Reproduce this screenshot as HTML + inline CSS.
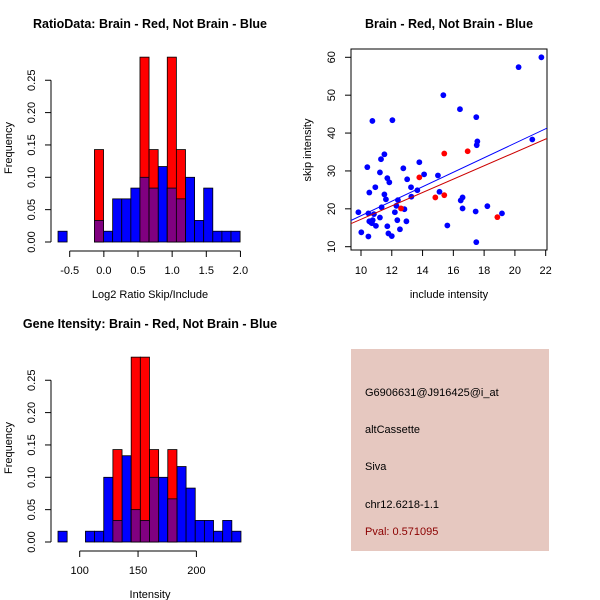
<!DOCTYPE html>
<html><head><meta charset="utf-8"><style>
html,body{margin:0;padding:0;background:#fff;}
svg{display:block;font-family:"Liberation Sans",sans-serif;}
</style></head><body>
<svg id="chart" width="600" height="600" viewBox="0 0 600 600" xmlns="http://www.w3.org/2000/svg">
<rect width="600" height="600" fill="#fff"/>
<g id="p1"></g>
<g id="p2"></g>
<g id="p3"></g>
<g id="p4">
<rect x="351" y="349" width="198" height="202" fill="#e6c8c0"/>
<text x="365" y="396" font-size="11">G6906631@J916425@i_at</text>
<text x="365" y="433" font-size="11">altCassette</text>
<text x="365" y="470" font-size="11">Siva</text>
<text x="365" y="508" font-size="11">chr12.6218-1.1</text>
<text x="365" y="535" font-size="11" fill="#8b0000">Pval: 0.571095</text>
</g>
</svg>
<script>
// Histogram 1 (ratio) data
const ratioBinStart = -0.671;
const ratioBinWidth = 0.1333;
const ratioBlue = [1,0,0,0,2,1,4,4,5,6,5,7,5,4,6,2,5,1,1,1].map(v=>v/60);
const ratioRed = [0,0,0,0,1,0,0,0,0,2,1,0,2,1,0,0,0,0,0,0].map(v=>v/7);
const ratioXTicks = [-0.5,0,0.5,1,1.5,2];
const ratioXLabels = ["-0.5","0.0","0.5","1.0","1.5","2.0"];
const freqTicks = [0,0.05,0.1,0.15,0.2,0.25];
const freqLabels = ["0.00","0.05","0.10","0.15","0.20","0.25"];
// Histogram 2 (intensity) data
const intBinStart = 81.4;
const intBinWidth = 7.84;
const intBlue = [1,0,0,1,1,6,2,8,3,2,6,6,4,7,5,2,2,1,2,1].map(v=>v/60);
const intRed = [0,0,0,0,0,0,1,0,2,2,1,0,1,0,0,0,0,0,0,0].map(v=>v/7);
const intXTicks = [100,150,200];
const intXLabels = ["100","150","200"];
// Scatter data
const blueX = [9.83,10.02,10.48,10.41,10.54,10.48,10.54,10.65,10.71,10.76,10.84,10.74,10.93,10.97,11.23,11.23,11.30,11.34,11.52,11.52,11.62,11.71,11.84,11.71,11.78,12.0,12.04,12.2,12.3,12.4,12.36,12.53,12.75,12.82,12.95,13.0,13.25,13.27,13.66,13.79,14.1,15.0,15.1,15.35,15.61,16.43,16.48,16.6,16.6,17.49,17.56,17.52,17.45,17.49,18.21,19.16,20.24,21.13,21.72];
const blueY = [19.1,13.8,12.7,31.0,24.3,18.8,16.7,16.4,16.2,17.0,18.6,43.2,25.7,15.5,29.6,17.7,33.1,20.4,34.4,23.8,22.5,28.1,27.0,15.4,13.5,12.8,43.4,19.1,20.8,22.3,17.0,14.6,30.7,19.9,16.7,27.8,25.7,23.2,24.9,32.3,29.1,28.8,24.5,50.0,15.6,46.3,22.2,23.0,20.1,44.2,37.8,36.8,19.3,11.2,20.7,18.8,57.4,38.3,60.0];
const redX = [12.6,13.79,14.83,15.41,15.41,16.93,18.86];
const redY = [20.1,28.3,23.0,34.6,23.6,35.2,17.8];
const fitBlue = [-0.97,1.914];
const fitRed = [-0.41,1.765];
const scXTicks = [10,12,14,16,18,20,22];
const scYTicks = [10,20,30,40,50,60];

const NS="http://www.w3.org/2000/svg";
function mk(parent,tag,attrs,txt){const e=document.createElementNS(NS,tag);for(const k in attrs)e.setAttribute(k,attrs[k]);if(txt!==undefined)e.textContent=txt;parent.appendChild(e);return e;}

function hist(g,oy,title,binStart,binW,blue,red,xTicks,xLabels,xlab){
  const X=v=>g.x0+(v-g.v0)*g.k;
  const Y=v=>oy+202-v*647;
  for(let i=0;i<blue.length;i++){
    const a=X(binStart+i*binW),b=X(binStart+(i+1)*binW);
    if(blue[i]>0){const r=mk(g.el,'rect',{x:a,y:Y(blue[i]),width:b-a,height:blue[i]*647,fill:'#0000ff',stroke:'#000','stroke-width':0.8});
      
      }
  }
  for(let i=0;i<red.length;i++){
    const a=X(binStart+i*binW),b=X(binStart+(i+1)*binW);
    if(red[i]>0){const r=mk(g.el,'rect',{x:a,y:Y(red[i]),width:b-a,height:red[i]*647,fill:'#ff0000',stroke:'#000','stroke-width':0.8});
      
      
      const m=Math.min(red[i],blue[i]);
      if(m>0){const p=mk(g.el,'rect',{x:a,y:Y(m),width:b-a,height:m*647,fill:'#800080',stroke:'#000','stroke-width':0.8});
        
        }
    }
  }
  const ya=mk(g.el,'line',{x1:51,x2:51,y1:Y(0),y2:Y(0.25),stroke:'#000'});
  
  
  freqTicks.forEach((t,i)=>{mk(g.el,'line',{x1:45,x2:51,y1:Y(t),y2:Y(t),stroke:'#000'});
    const tx=mk(g.el,'text',{x:0,y:0,'font-size':11,'text-anchor':'middle',transform:`translate(35,${Y(t)}) rotate(-90)`},freqLabels[i]);
    
    });
  const xa=mk(g.el,'line',{x1:X(xTicks[0]),x2:X(xTicks[xTicks.length-1]),y1:oy+211,y2:oy+211,stroke:'#000'});
  
  
  xTicks.forEach((t,i)=>{mk(g.el,'line',{x1:X(t),x2:X(t),y1:oy+211,y2:oy+217,stroke:'#000'});
    const tx=mk(g.el,'text',{x:X(t),y:oy+234,'font-size':11,'text-anchor':'middle'},xLabels[i]);
    
    });
  const yl=mk(g.el,'text',{x:0,y:0,'font-size':11,'text-anchor':'middle',transform:`translate(12,${oy+108}) rotate(-90)`},'Frequency');
  
  
  const xl=mk(g.el,'text',{x:150,y:oy+258,'font-size':11,'text-anchor':'middle'},xlab);
  
  
  const tt=mk(g.el,'text',{x:150,y:oy-12,'font-size':12.5,'font-weight':'bold','text-anchor':'middle'},title);
  
  
}
hist({el:document.getElementById('p1'),x0:69.7,v0:-0.5,k:68.3},40,'RatioData: Brain - Red, Not Brain - Blue',ratioBinStart,ratioBinWidth,ratioBlue,ratioRed,ratioXTicks,ratioXLabels,'Log2 Ratio Skip/Include');
hist({el:document.getElementById('p3'),x0:79.7,v0:100,k:1.167},340,'Gene Itensity: Brain - Red, Not Brain - Blue',intBinStart,intBinWidth,intBlue,intRed,intXTicks,intXLabels,'Intensity');

// scatter
(function(){
  const g=document.getElementById('p2');
  const X=v=>361+(v-10)*15.39;
  const Y=v=>246.7-(v-10)*3.788;
  const box=mk(g,'rect',{x:351,y:49,width:196,height:201,fill:'none',stroke:'#000'});
  
  
  scXTicks.forEach(t=>{mk(g,'line',{x1:X(t),x2:X(t),y1:250,y2:256,stroke:'#000'});
    const tx=mk(g,'text',{x:X(t),y:274,'font-size':11,'text-anchor':'middle'},String(t));
    
    });
  scYTicks.forEach(t=>{mk(g,'line',{x1:345,x2:351,y1:Y(t),y2:Y(t),stroke:'#000'});
    const tx=mk(g,'text',{x:0,y:0,'font-size':11,'text-anchor':'middle',transform:`translate(335,${Y(t)}) rotate(-90)`},String(t));
    
    });
  const clip=mk(g,'clipPath',{id:'sc'});mk(clip,'rect',{x:351,y:49,width:196,height:201});
  blueX.forEach((x,i)=>{const c=mk(g,'circle',{cx:X(x),cy:Y(blueY[i]),r:2.9,fill:'#0000ff'});
    
    });
  redX.forEach((x,i)=>{const c=mk(g,'circle',{cx:X(x),cy:Y(redY[i]),r:2.9,fill:'#ff0000'});
    
    });
  const xa=9.2,xb=22.4;
  const lb=mk(g,'line',{x1:X(xa),y1:Y(fitBlue[0]+fitBlue[1]*xa),x2:X(xb),y2:Y(fitBlue[0]+fitBlue[1]*xb),stroke:'#0000ff','clip-path':'url(#sc)'});
  
  
  const lr=mk(g,'line',{x1:X(xa),y1:Y(fitRed[0]+fitRed[1]*xa),x2:X(xb),y2:Y(fitRed[0]+fitRed[1]*xb),stroke:'#cc0000','clip-path':'url(#sc)'});
  
  
  const yl=mk(g,'text',{x:0,y:0,'font-size':11,'text-anchor':'middle',transform:'translate(311,150) rotate(-90)'},'skip intensity');
  
  
  const xl=mk(g,'text',{x:449,y:298,'font-size':11,'text-anchor':'middle'},'include intensity');
  
  
  const tt=mk(g,'text',{x:449,y:28,'font-size':12.5,'font-weight':'bold','text-anchor':'middle'},'Brain - Red, Not Brain - Blue');
  
  
})();
</script>
</body></html>
